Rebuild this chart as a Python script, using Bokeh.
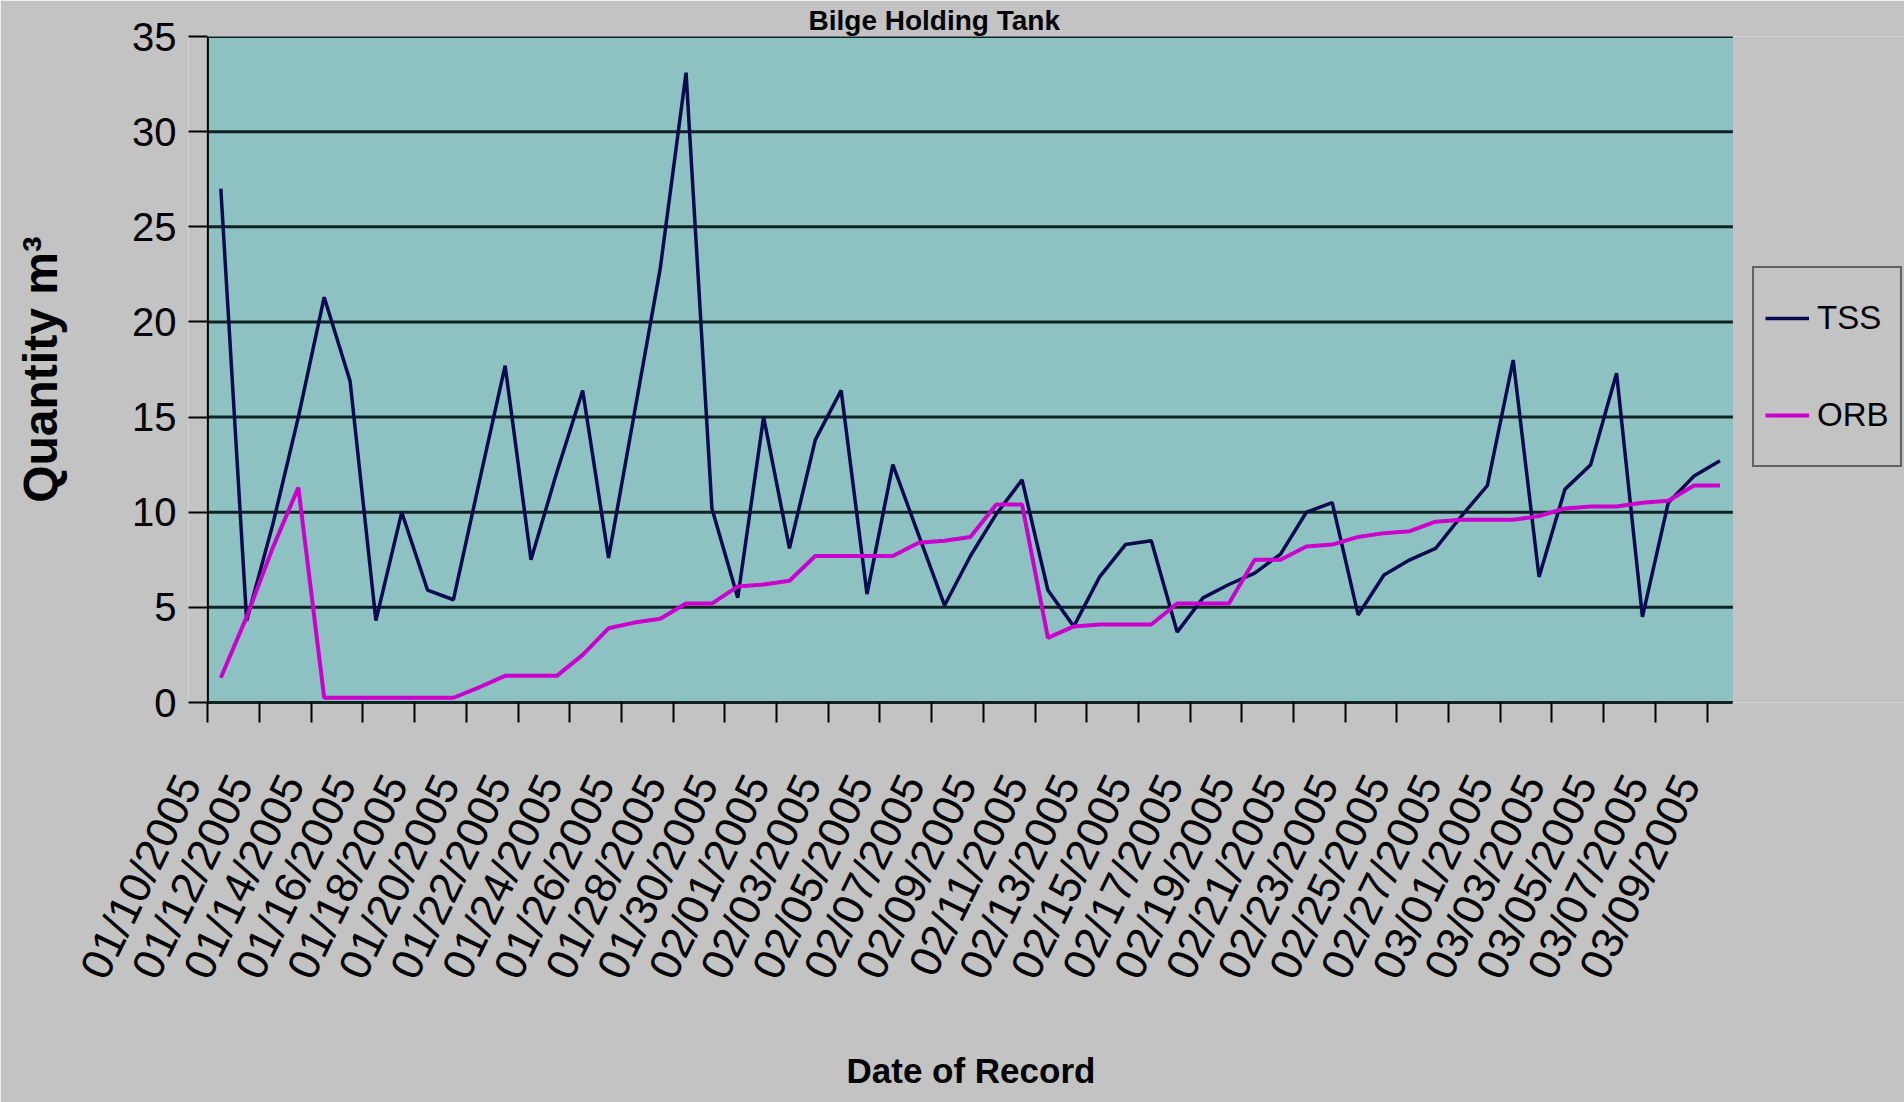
import math
from bokeh.plotting import figure
from bokeh.models import (FixedTicker, Legend, LegendItem, ColumnDataSource, Range1d,
                          BoxAnnotation, LinearAxis, Title)
from bokeh.embed import file_html
from bokeh.resources import INLINE

# ---------------- data ----------------
dates = [
    "01/10/2005", "01/11/2005", "01/12/2005", "01/13/2005", "01/14/2005", "01/15/2005",
    "01/16/2005", "01/17/2005", "01/18/2005", "01/19/2005", "01/20/2005", "01/21/2005",
    "01/22/2005", "01/23/2005", "01/24/2005", "01/25/2005", "01/26/2005", "01/27/2005",
    "01/28/2005", "01/29/2005", "01/30/2005", "01/31/2005", "02/01/2005", "02/02/2005",
    "02/03/2005", "02/04/2005", "02/05/2005", "02/06/2005", "02/07/2005", "02/08/2005",
    "02/09/2005", "02/10/2005", "02/11/2005", "02/12/2005", "02/13/2005", "02/14/2005",
    "02/15/2005", "02/16/2005", "02/17/2005", "02/18/2005", "02/19/2005", "02/20/2005",
    "02/21/2005", "02/22/2005", "02/23/2005", "02/24/2005", "02/25/2005", "02/26/2005",
    "02/27/2005", "02/28/2005", "03/01/2005", "03/02/2005", "03/03/2005", "03/04/2005",
    "03/05/2005", "03/06/2005", "03/07/2005", "03/08/2005", "03/09/2005",
]

tss = [
    27.0, 4.3, 9.3, 15.0, 21.3, 16.9, 4.3, 10.0, 5.9, 5.4,
    11.6, 17.7, 7.5, 12.1, 16.4, 7.6, 15.2, 22.8, 33.1, 10.2,
    5.5, 15.0, 8.1, 13.8, 16.4, 5.7, 12.5, 8.8, 5.1, 7.7,
    9.9, 11.7, 5.9, 4.0, 6.6, 8.3, 8.5, 3.7, 5.5, 6.2,
    6.8, 7.8, 10.0, 10.5, 4.6, 6.7, 7.5, 8.1, 9.8, 11.4,
    18.0, 6.6, 11.2, 12.5, 17.3, 4.5, 10.5, 11.9, 12.7,
]

orb = [
    1.3, 4.5, 8.1, 11.3, 0.25, 0.25, 0.25, 0.25, 0.25, 0.25,
    0.8, 1.4, 1.4, 1.4, 2.5, 3.9, 4.2, 4.4, 5.2, 5.2,
    6.1, 6.2, 6.4, 7.7, 7.7, 7.7, 7.7, 8.4, 8.5, 8.7,
    10.4, 10.4, 3.4, 4.0, 4.1, 4.1, 4.1, 5.2, 5.2, 5.2,
    7.5, 7.5, 8.2, 8.3, 8.7, 8.9, 9.0, 9.5, 9.6, 9.6,
    9.6, 9.8, 10.2, 10.3, 10.3, 10.5, 10.6, 11.4, 11.4,
]

series_names = ["TSS", "ORB"]
y_ticks = [0, 5, 10, 15, 20, 25, 30, 35]
title_text = "Bilge Holding Tank"
x_title = "Date of Record"
y_title = "Quantity m\u00b3"

n = len(dates)
# tick marks sit on category boundaries, every other date is labelled
tick_positions = list(range(0, n, 2))
LABEL_SHIFT = -0.75   # rotated labels hang slightly left of their tick
label_positions = [k + LABEL_SHIFT for k in tick_positions]
tick_labels = {k + LABEL_SHIFT: dates[k] for k in tick_positions}

# ---------------- figure ----------------
xs = [i + 0.5 for i in range(n)]  # category centres
src = ColumnDataSource(dict(x=xs, tss=tss, orb=orb, date=dates))
grid_src = ColumnDataSource(dict(x0=[0] * len(y_ticks), x1=[n] * len(y_ticks),
                                 y=y_ticks))

PLOT_BG = "#8EC2C2"
PAGE_BG = "#C3C3C3"
GRID = "#102222"
FONT = "Liberation Sans"

W, H = 1904, 1102
AREA_L, PLOT_R = 207, 1732            # teal plot-area pixel extent
X0 = LABEL_SHIFT                      # range starts a little left of the first category
unit = (PLOT_R - AREA_L) / n          # pixels per category
FRAME_L = round(AREA_L + X0 * unit)
x_end = X0 + (W - FRAME_L) / unit

p = figure(
    width=W, height=H,
    x_range=Range1d(X0, x_end), y_range=Range1d(0, 35),
    output_backend="svg", toolbar_location=None,
    min_border_left=FRAME_L, min_border_right=0,
    min_border_top=36, min_border_bottom=400,
    background_fill_color=PAGE_BG, border_fill_color=PAGE_BG,
    outline_line_color=None,
)

# teal plot area limited to the category span
p.add_layout(BoxAnnotation(left=0, right=n, bottom=0, top=35, fill_color=PLOT_BG,
                           fill_alpha=1.0, line_color=None, level="image"))

# title (fits in the strip above the plot area)
p.title.text = title_text
p.title.text_font = FONT
p.title.text_font_style = "bold"
p.title.text_font_size = "28px"
p.title.text_color = "black"
p.title.align = "left"
p.title.offset = 808 - FRAME_L
p.title.standoff = 2

# horizontal grid lines and left edge of the plot area
p.xgrid.visible = False
p.ygrid.visible = False
p.segment(x0="x0", x1="x1", y0="y", y1="y", source=grid_src,
          line_color=GRID, line_width=3, level="underlay")
p.segment(x0=[0], x1=[0], y0=[0], y1=[35], line_color="black", line_width=2,
          level="underlay")

# y axis (sits at the frame edge; ticks reach inward to the plot area)
ya = p.yaxis[0]
ya.ticker = FixedTicker(ticks=y_ticks)
ya.axis_line_color = None
ya.major_tick_out = 0
ya.major_tick_in = AREA_L - FRAME_L
ya.major_tick_line_width = 2
ya.major_tick_line_color = "black"
ya.minor_tick_line_color = None
ya.major_label_text_font = FONT
ya.major_label_text_font_size = "40px"
ya.major_label_text_color = "black"
ya.major_label_standoff = 12
ya.axis_label = y_title
ya.axis_label_text_font = FONT
ya.axis_label_text_font_style = "bold"
ya.axis_label_text_font_size = "48px"
ya.axis_label_text_color = "black"
ya.axis_label_standoff = 62

# x axis: line + tick marks (labels not drawn)
xa = p.xaxis[0]
xa.ticker = FixedTicker(ticks=tick_positions)
xa.bounds = (0, n)
xa.axis_line_color = GRID
xa.axis_line_width = 3
xa.major_tick_out = 20
xa.major_tick_in = 0
xa.major_tick_line_width = 2
xa.major_tick_line_color = "black"
xa.minor_tick_line_color = None
xa.major_label_text_font_size = "1px"
xa.major_label_text_color = None
xa.major_label_standoff = 0

# x axis: rotated date labels (its undrawn axis label only reserves space)
xb = LinearAxis(
    ticker=FixedTicker(ticks=label_positions),
    major_label_overrides=tick_labels,
    major_label_orientation=math.radians(64),
    axis_line_color=None,
    major_tick_line_color=None,
    minor_tick_line_color=None,
    major_tick_out=0, major_tick_in=0,
    major_label_text_font=FONT,
    major_label_text_font_size="44px",
    major_label_text_color="black",
    major_label_standoff=55,
    axis_label=x_title,
    axis_label_text_font=FONT,
    axis_label_text_font_size="35px",
    axis_label_text_color=None,
    axis_label_standoff=2,
)
p.add_layout(xb, "below")

# x axis title, placed under the plot area's centre
p.add_layout(Title(text=x_title, align="left", offset=846 - FRAME_L,
                   text_font=FONT, text_font_style="bold", text_font_size="35px",
                   text_color="black", standoff=10), "below")

# series
r_tss = p.line("x", "tss", source=src, line_color="#0A0A50", line_width=3.5)
r_orb = p.line("x", "orb", source=src, line_color="#CC00CC", line_width=4)

legend = Legend(
    items=[LegendItem(label=series_names[0], renderers=[r_tss]),
           LegendItem(label=series_names[1], renderers=[r_orb])],
    location=(1752 - FRAME_L, 235),
    orientation="vertical",
    background_fill_color=PAGE_BG,
    background_fill_alpha=1.0,
    border_line_color="black",
    border_line_width=2,
    label_text_font=FONT,
    label_text_font_size="33px",
    label_text_color="black",
    glyph_width=44,
    glyph_height=78,
    label_height=78,
    label_standoff=8,
    padding=11,
    spacing=19,
    margin=0,
)
p.add_layout(legend)

open("out.html", "w").write(file_html(p, INLINE))
